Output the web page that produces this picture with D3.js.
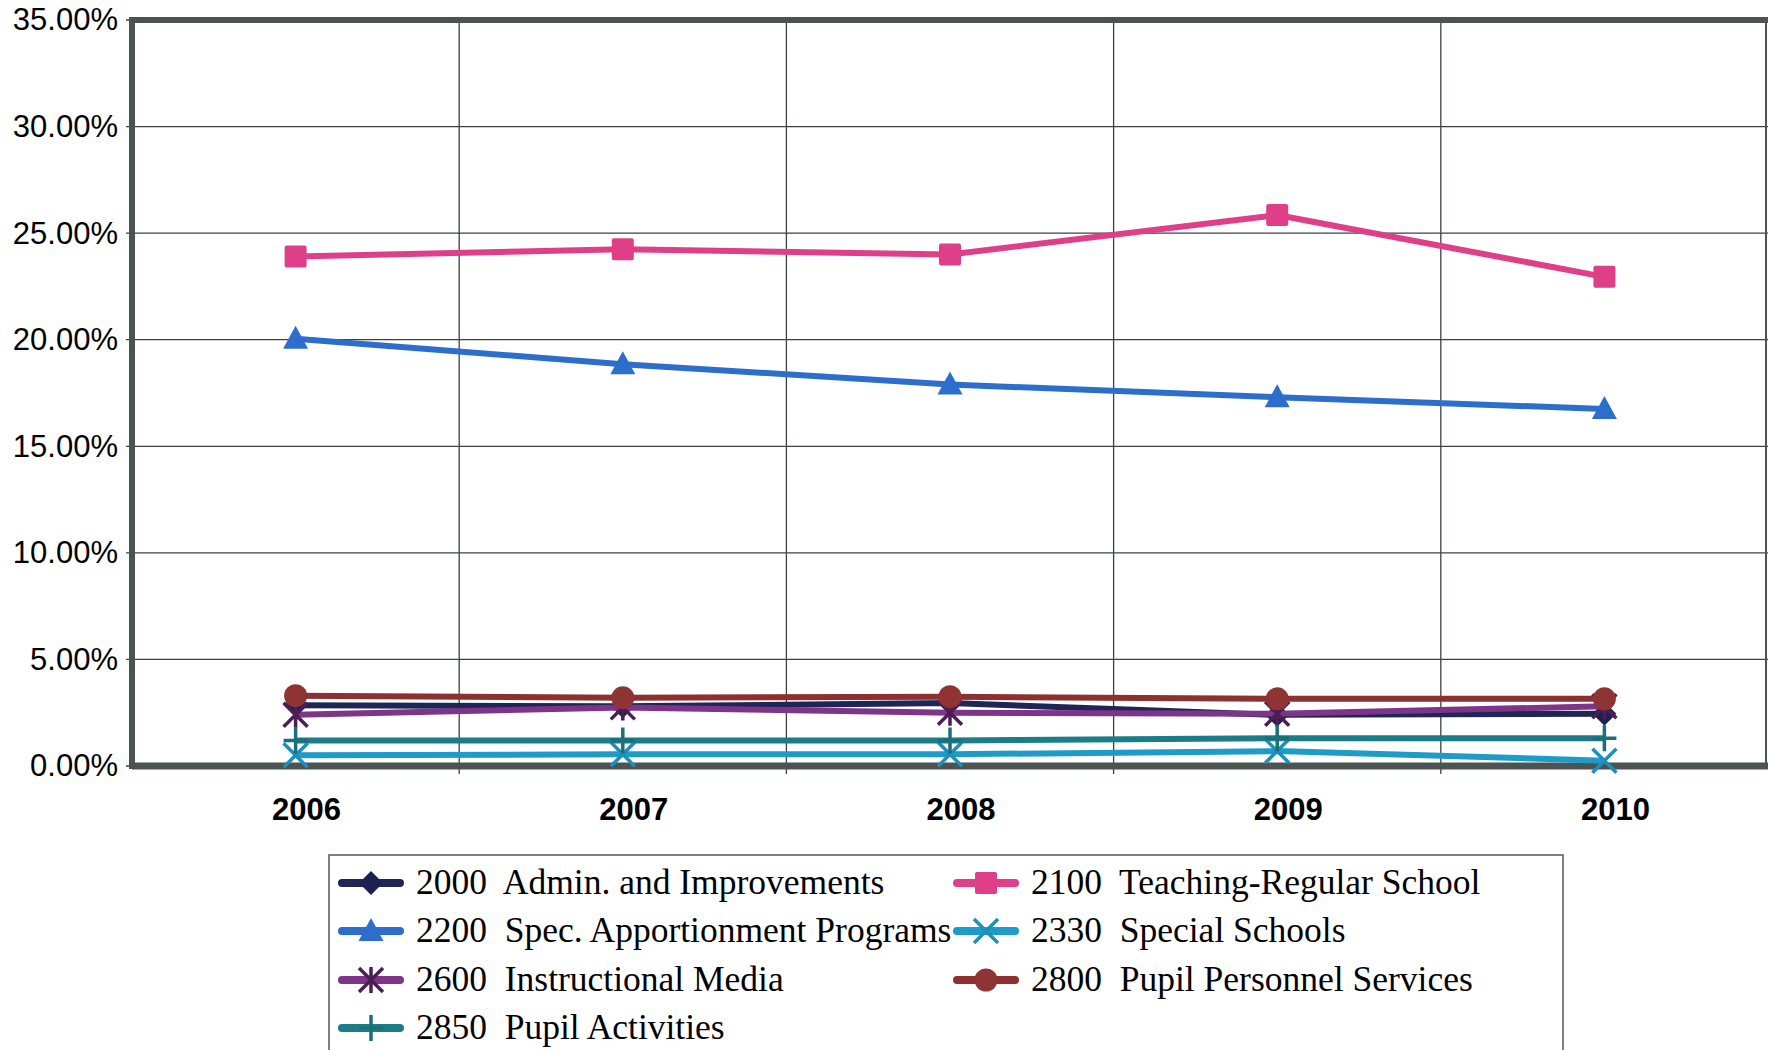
<!DOCTYPE html>
<html>
<head>
<meta charset="utf-8">
<script src="https://cdn.jsdelivr.net/npm/d3@7"></script>
<style>
  body { margin: 0; background: #fff; }
  svg { display: block; }
</style>
</head>
<body>
<script>
// chart data (percent of total)
var years = ["2006", "2007", "2008", "2009", "2010"];
var yTicks = [0, 5, 10, 15, 20, 25, 30, 35];

var names = ["2000  Admin. and Improvements", "2100  Teaching-Regular School",
    "2200  Spec. Apportionment Programs", "2330  Special Schools",
    "2600  Instructional Media", "2800  Pupil Personnel Services",
    "2850  Pupil Activities"];

var admin      = [2.85, 2.8, 2.95, 2.4, 2.45];
var teaching   = [23.9, 24.25, 24.0, 25.85, 22.95];
var specApp    = [20.05, 18.85, 17.9, 17.3, 16.75];
var special    = [0.5, 0.55, 0.55, 0.7, 0.25];
var media      = [2.4, 2.75, 2.5, 2.45, 2.8];
var personnel  = [3.3, 3.2, 3.25, 3.15, 3.15];
var activities = [1.2, 1.2, 1.2, 1.3, 1.3];

var seriesValues = [admin, teaching, specApp, special, media, personnel, activities];

// look of every series: line colour, marker colour, marker type
var looks = [
    {line: "#1f2656", mark: "#1b2250", shape: "diamond"},
    {line: "#de3f88", mark: "#de3f88", shape: "square"},
    {line: "#2d6dcc", mark: "#2d6dcc", shape: "triangle"},
    {line: "#1f9bc9", mark: "#1f8fba", shape: "x"},
    {line: "#7e3488", mark: "#4d1d55", shape: "star"},
    {line: "#8e2f30", mark: "#8e3434", shape: "circle"},
    {line: "#1c7d88", mark: "#1c6f7a", shape: "plus"}
];

var W = 1769, H = 1050;
var margin = {top: 20, right: 1, bottom: 284, left: 132},
    width = W - margin.left - margin.right,
    height = H - margin.top - margin.bottom;

var svg = d3.select("body").append("svg")
    .attr("width", W)
    .attr("height", H);

var g = svg.append("g")
    .attr("transform", "translate(" + margin.left + "," + margin.top + ")");

var x = d3.scaleBand().domain(years).range([0, width]);
var y = d3.scaleLinear().domain([0, 35]).range([height, 0]);

// horizontal gridlines
g.append("g").selectAll("line")
    .data(yTicks)
    .enter().append("line")
    .attr("x1", -6).attr("x2", width)
    .attr("y1", function(d) { return y(d); })
    .attr("y2", function(d) { return y(d); })
    .style("stroke", "#3c4242")
    .style("stroke-width", 1.3);

// vertical gridlines between the categories
g.append("g").selectAll("line")
    .data(years.slice(1))
    .enter().append("line")
    .attr("x1", function(d) { return x(d); })
    .attr("x2", function(d) { return x(d); })
    .attr("y1", 0).attr("y2", height + 8)
    .style("stroke", "#3c4242")
    .style("stroke-width", 1.3);

// y axis labels
var yAxis = d3.axisLeft(y).tickValues(yTicks).tickSize(0).tickPadding(14)
    .tickFormat(function(d) { return d.toFixed(2) + "%"; });
var yg = g.append("g").call(yAxis);
yg.select(".domain").remove();
yg.selectAll("text")
    .style("font-family", "'Liberation Sans', Arial, sans-serif")
    .style("font-size", "31px")
    .style("fill", "#000");

// x axis labels
var xAxis = d3.axisBottom(x).tickSize(0).tickPadding(32);
var xg = g.append("g").attr("transform", "translate(11," + height + ")").call(xAxis);
xg.select(".domain").remove();
xg.selectAll("text")
    .style("font-family", "'Liberation Sans', Arial, sans-serif")
    .style("font-size", "31px")
    .style("font-weight", "bold")
    .style("fill", "#000");

// plot frame: thick left, top and bottom, thin right
g.append("line").attr("x1", 0).attr("x2", width).attr("y1", 0).attr("y2", 0)
    .style("stroke", "#4b5353").style("stroke-width", 6);
g.append("line").attr("x1", 0).attr("x2", width).attr("y1", height).attr("y2", height)
    .style("stroke", "#4b5353").style("stroke-width", 7);
g.append("line").attr("x1", 0).attr("x2", 0).attr("y1", -3).attr("y2", height + 3)
    .style("stroke", "#4b5353").style("stroke-width", 6);
g.append("line").attr("x1", width - 2).attr("x2", width - 2).attr("y1", 0).attr("y2", height)
    .style("stroke", "#4b5353").style("stroke-width", 2);

// draws a marker of a given shape centred at (cx, cy)
function drawMarker(sel, shape, cx, cy, color) {
    var m = sel.append("g").attr("transform", "translate(" + cx + "," + cy + ")");
    if (shape == "diamond") {
        m.append("path").attr("d", "M0,-12L12,0L0,12L-12,0Z").style("fill", color);
    } else if (shape == "square") {
        m.append("rect").attr("x", -11).attr("y", -11).attr("width", 22).attr("height", 22)
            .attr("rx", 2).style("fill", color);
    } else if (shape == "triangle") {
        m.append("path").attr("d", "M0,-13L12.5,10L-12.5,10Z").style("fill", color);
    } else if (shape == "circle") {
        m.append("circle").attr("r", 11.5).style("fill", color);
    } else if (shape == "x") {
        m.append("path").attr("d", "M-12,-12L12,12M12,-12L-12,12")
            .style("stroke", color).style("stroke-width", 3.5).style("fill", "none");
    } else if (shape == "star") {
        m.append("path").attr("d", "M-12,-12L12,12M12,-12L-12,12M0,-13L0,13")
            .style("stroke", color).style("stroke-width", 3.5).style("fill", "none");
    } else if (shape == "plus") {
        m.append("path").attr("d", "M0,-13L0,13M-12,0L12,0")
            .style("stroke", color).style("stroke-width", 3.5).style("fill", "none");
    }
}

var line = d3.line()
    .x(function(d, i) { return x(years[i]) + x.bandwidth() / 2; })
    .y(function(d) { return y(d); });

seriesValues.forEach(function(vals, s) {
    var look = looks[s];
    g.append("path")
        .datum(vals)
        .attr("d", line)
        .style("fill", "none")
        .style("stroke", look.line)
        .style("stroke-width", 6)
        .style("stroke-linejoin", "round");
    vals.forEach(function(v, i) {
        drawMarker(g, look.shape, x(years[i]) + x.bandwidth() / 2, y(v), look.mark);
    });
});

// legend
var legend = svg.append("g");
legend.append("rect")
    .attr("x", 329).attr("y", 855)
    .attr("width", 1234).attr("height", 230)
    .style("fill", "none")
    .style("stroke", "#555")
    .style("stroke-width", 1.5);

var colX = [338, 953];
var rowY = [883, 931, 980, 1028];

names.forEach(function(name, i) {
    var cx = colX[i % 2], cy = rowY[Math.floor(i / 2)];
    var look = looks[i];
    legend.append("line")
        .attr("x1", cx + 4).attr("x2", cx + 62)
        .attr("y1", cy).attr("y2", cy)
        .style("stroke", look.line)
        .style("stroke-width", 8)
        .style("stroke-linecap", "round");
    drawMarker(legend, look.shape, cx + 33, cy, look.mark);
    legend.append("text")
        .attr("x", cx + 78).attr("y", cy + 11)
        .text(name)
        .attr("xml:space", "preserve")
        .style("white-space", "pre")
        .style("font-family", "'Liberation Serif', 'Times New Roman', serif")
        .style("font-size", "35.5px")
        .style("fill", "#000");
});
</script>
</body>
</html>
